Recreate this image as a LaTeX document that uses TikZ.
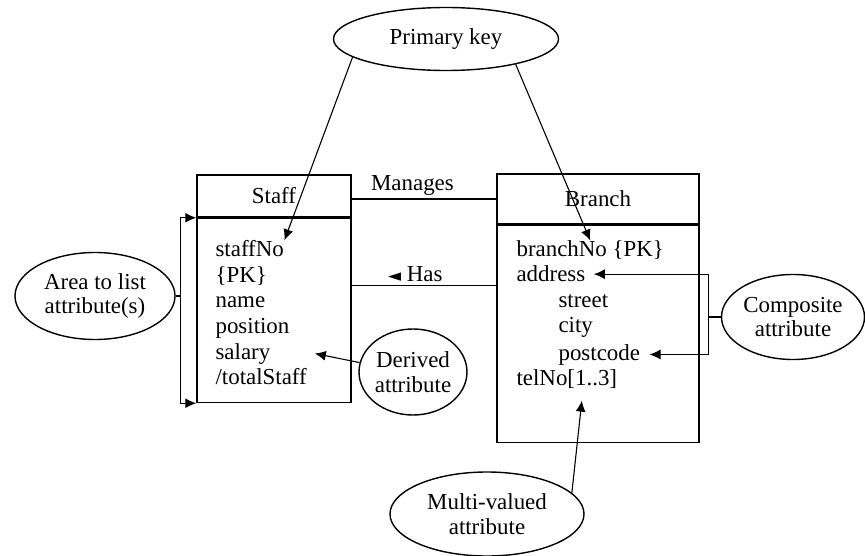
\documentclass[tikz,border=0pt]{standalone}
\usepackage{fontspec}
\setmainfont{Liberation Serif}
\newfontfamily\symfont{DejaVu Sans}
\usetikzlibrary{arrows.meta,shapes.geometric}

\begin{document}
\begin{tikzpicture}[x=1bp, y=-1bp, font=\fontsize{23}{25}\selectfont,
      >={Latex[length=11bp,width=10bp]}, line width=1.1bp,
      ov/.style={draw, ellipse, line width=1.4bp, inner sep=0pt, align=center},
      bx/.style={draw, rectangle, line width=1.5bp, inner sep=0pt},
      attr/.style={anchor=base west, inner sep=0pt}]
    \useasboundingbox (0,0) rectangle (865,556);
    % Staff and Branch
    \node[bx, minimum width=154bp, minimum height=42bp] (sh) at (274,196) {Staff};
    \node[bx, minimum width=154bp, minimum height=184bp, anchor=north] (sb) at (sh.south) {};
    \node[bx, minimum width=202bp, minimum height=50bp] (bh) at (598,199) {Branch};
    \node[bx, minimum width=202bp, minimum height=217bp, anchor=north] (bb) at (bh.south) {};
    \node[attr] (sno) at (215,257) {staffNo};
    \node[attr] (spk) at (215,283) {\{PK\}};
    \node[attr] (snm) at (215,308) {name};
    \node[attr] (spo) at (215,334) {position};
    \node[attr] (ssa) at (215,359) {salary};
    \node[attr] (sto) at (215,384) {/totalStaff};
    \node[attr] (bno) at (516,257) {branchNo \{PK\}};
    \node[attr] (bad) at (516,282) {address};
    \node[attr] (bst) at (558,308) {street};
    \node[attr] (bci) at (558,333) {city};
    \node[attr] (bpc) at (558,360) {postcode};
    \node[attr] (btel) at (516,385) {telNo[1..3]};
    % notes
    \node[ov, minimum width=225bp, minimum height=63bp] (pk) at (446,39) {Primary key};
    \node[ov, minimum width=160bp, minimum height=87bp] (area) at (95,296) {Area to list\\attribute(s)};
    \node[ov, minimum width=100bp, minimum height=86bp] (der) at (413,372) {Derived\\attribute};
    \node[ov, minimum width=143bp, minimum height=85bp] (comp) at (793,317) {Composite\\attribute};
    \node[ov, minimum width=194bp, minimum height=84bp] (mv) at (487,514) {Multi-valued\\attribute};
    % relationships
    \draw (bh.west -| sh.east) -- node[above, pos=0.42]{Manages} (bh.west);
    \draw (sb.18) -- node[above, pos=0.44]{{\symfont\fontsize{17}{17}\selectfont ◄}~Has} (sb.18 -| bb.west);
    % pointers
    \draw[->] (pk.191) -- (sno.north east);
    \draw[->] (pk.340) -- (bno.north);
    \draw[->] (area.east) -- ++(5,0) |- (sb.north west);
    \draw[->] (area.east) -- ++(5,0) |- (sb.south west);
    \draw[->] (der.170) -- ([xshift=44bp]ssa.east);
    \draw[->] (comp.west) -- ++(-12,0) |- ([xshift=8bp]bad.east);
    \draw[->] (comp.west) -- ++(-12,0) |- ([xshift=9bp]bpc.east);
    \draw[->] (mv.14) -- ([xshift=15bp, yshift=-12bp]btel.south);
\end{tikzpicture}
\end{document}
